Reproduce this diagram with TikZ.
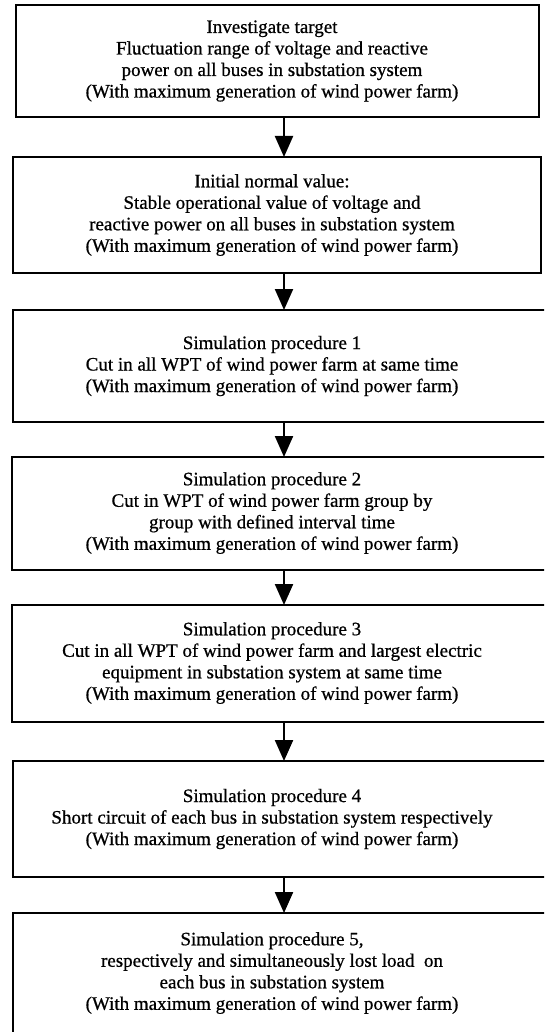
\documentclass[tikz,border=0pt]{standalone}
\usepackage{fontspec}
\setmainfont{Liberation Serif}
\newfontfamily\boxfont[FakeBold=0.7]{Liberation Serif}
\usetikzlibrary{arrows.meta}
\begin{document}
\begin{tikzpicture}[x=1pt,y=-1pt,
  stagebox/.style={draw=black, line width=2.6pt, anchor=north west, inner sep=0pt, outer sep=0pt},
  stagetext/.style={align=center, inner sep=0pt, font=\boxfont\fontsize{19}{21.5}\selectfont},
  flowarrow/.style={draw=black, line width=2.2pt, -{Triangle[width=18pt,length=21pt]}}]
\useasboundingbox (0,0) rectangle (544,1032);
\fill[white] (0,0) rectangle (544,1032);
\clip (0,0) rectangle (544,1032);
\coordinate (ax) at (284,0);
% boxes
\node[stagebox, minimum width=523pt, minimum height=112pt] (b1) at (16,5) {};
\node[stagebox, minimum width=528pt, minimum height=116pt] (b2) at (13,157) {};
\node[stagebox, minimum width=540pt, minimum height=112pt] (b3) at (13,310) {};
\node[stagebox, minimum width=540pt, minimum height=113pt] (b4) at (12,457) {};
\node[stagebox, minimum width=540pt, minimum height=117pt] (b5) at (12,605) {};
\node[stagebox, minimum width=540pt, minimum height=116pt] (b6) at (13,761) {};
\node[stagebox, minimum width=540pt, minimum height=122pt] (b7) at (13,913) {};
% texts
\node[stagetext] (t1) at (272,61) {Investigate target\\Fluctuation range of voltage and reactive\\power on all buses in substation system\\(With maximum generation of wind power farm)};
\node[stagetext] (t2) at (272,215) {Initial normal value:\\Stable operational value of voltage and\\reactive power on all buses in substation system\\(With maximum generation of wind power farm)};
\node[stagetext] (t3) at (272,366) {Simulation procedure 1\\Cut in all WPT of wind power farm at same time\\(With maximum generation of wind power farm)};
\node[stagetext] (t4) at (272,513) {Simulation procedure 2\\Cut in WPT of wind power farm group by\\group with defined interval time\\(With maximum generation of wind power farm)};
\node[stagetext] (t5) at (272,663) {Simulation procedure 3\\Cut in all WPT of wind power farm and largest electric\\equipment in substation system at same time\\(With maximum generation of wind power farm)};
\node[stagetext] (t6) at (272,819) {Simulation procedure 4\\Short circuit of each bus in substation system respectively\\(With maximum generation of wind power farm)};
\node[stagetext] (t7) at (272,973) {Simulation procedure 5,\\respectively and simultaneously lost load\ \ on\\each bus in substation system\\(With maximum generation of wind power farm)};
% arrows
\draw[flowarrow] (b1.south -| ax) -- (b2.north -| ax);
\draw[flowarrow] (b2.south -| ax) -- (b3.north -| ax);
\draw[flowarrow] (b3.south -| ax) -- (b4.north -| ax);
\draw[flowarrow] (b4.south -| ax) -- (b5.north -| ax);
\draw[flowarrow] (b5.south -| ax) -- (b6.north -| ax);
\draw[flowarrow] (b6.south -| ax) -- (b7.north -| ax);
\end{tikzpicture}
\end{document}
